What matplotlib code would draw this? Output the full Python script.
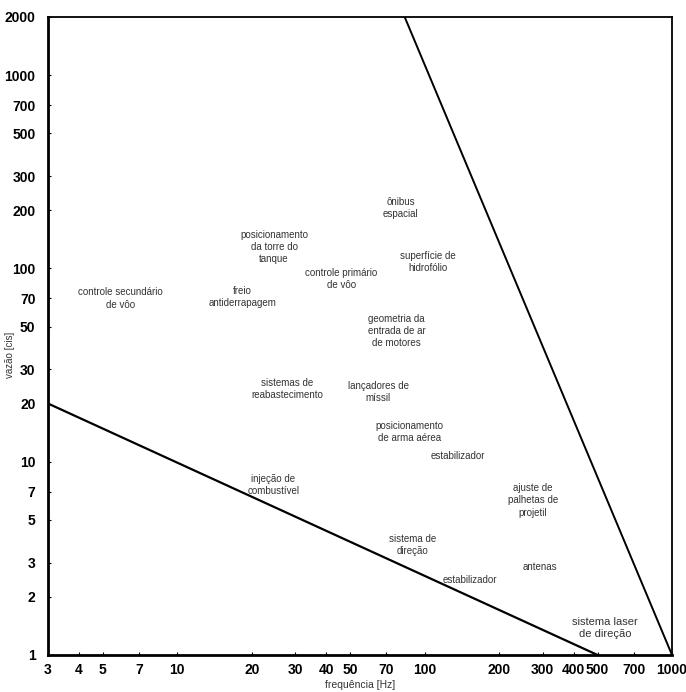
import matplotlib
matplotlib.use("Agg")
import matplotlib.pyplot as plt
from matplotlib.ticker import FixedLocator, NullLocator

plt.rcParams['font.family'] = ['Liberation Sans', 'DejaVu Sans']

# axis ticks
x_ticks = [3, 4, 5, 7, 10, 20, 30, 40, 50, 70, 100, 200, 300, 400, 500, 700, 1000]
y_ticks = [1, 2, 3, 5, 7, 10, 20, 30, 50, 70, 100, 200, 300, 500, 700, 1000, 2000]

# boundary lines (frequency, flow)
lower_x = [3, 500]
lower_y = [20, 1]
upper_x = [83, 1000]
upper_y = [2000, 1]

# application labels
labels = [
    "controle secundário\nde vôo",
    "posicionamento\nda torre do\ntanque",
    "freio\nantiderrapagem",
    "controle primário\nde vôo",
    "ônibus\nespacial",
    "superfície de\nhidrofólio",
    "geometria da\nentrada de ar\nde motores",
    "sistemas de\nreabastecimento",
    "lançadores de\nmíssil",
    "posicionamento\nde arma aérea",
    "estabilizador",
    "injeção de\ncombustível",
    "ajuste de\npalhetas de\nprojetil",
    "sistema de\ndireção",
    "estabilizador",
    "antenas",
    "sistema laser\nde direção",
]
label_x = [5.9, 24.6, 18.3, 46, 80, 103, 77, 27.8, 65, 87, 136, 24.4, 274, 89, 153, 293, 536]
label_y = [70, 129, 71, 88, 205, 108, 47.5, 23.8, 22.9, 14.2, 10.7, 7.6, 6.3, 3.7, 2.44, 2.85, 1.38]

fig = plt.figure(figsize=(6.86, 6.92), dpi=100)
ax = fig.add_axes([0.070, 0.0535, 0.9096, 0.922])

ax.plot(lower_x, lower_y, color='black', lw=1.6)
ax.plot(upper_x, upper_y, color='black', lw=1.4)

for txt, x, y in zip(labels, label_x, label_y):
    size = 8 if "laser" in txt else 7
    ax.text(x, y, txt, ha='center', va='center', fontsize=size,
            color='#333333', linespacing=1.3)

ax.set_xscale('log')
ax.set_yscale('log')
ax.set_xlim(3, 1000)
ax.set_ylim(1, 2000)

ax.xaxis.set_major_locator(FixedLocator(x_ticks))
ax.xaxis.set_minor_locator(NullLocator())
ax.yaxis.set_major_locator(FixedLocator(y_ticks))
ax.yaxis.set_minor_locator(NullLocator())
ax.set_xticklabels([str(t) for t in x_ticks], fontsize=10, fontweight='bold')
ax.set_yticklabels([str(t) for t in y_ticks], fontsize=10, fontweight='bold')
ax.tick_params(axis='x', length=2, direction='in', pad=6)
ax.tick_params(axis='y', length=2, direction='in', pad=9)

ax.set_xlabel("frequência [Hz]", fontsize=7.5, color='#333333', labelpad=2)
ax.set_ylabel("vazão [cis]", fontsize=7, color='#333333')
ax.yaxis.set_label_coords(-0.053, 0.47)

ax.spines['left'].set_linewidth(2.0)
ax.spines['bottom'].set_linewidth(2.0)
ax.spines['top'].set_linewidth(1.3)
ax.spines['right'].set_linewidth(1.3)

fig.savefig("out.png", dpi=100)
